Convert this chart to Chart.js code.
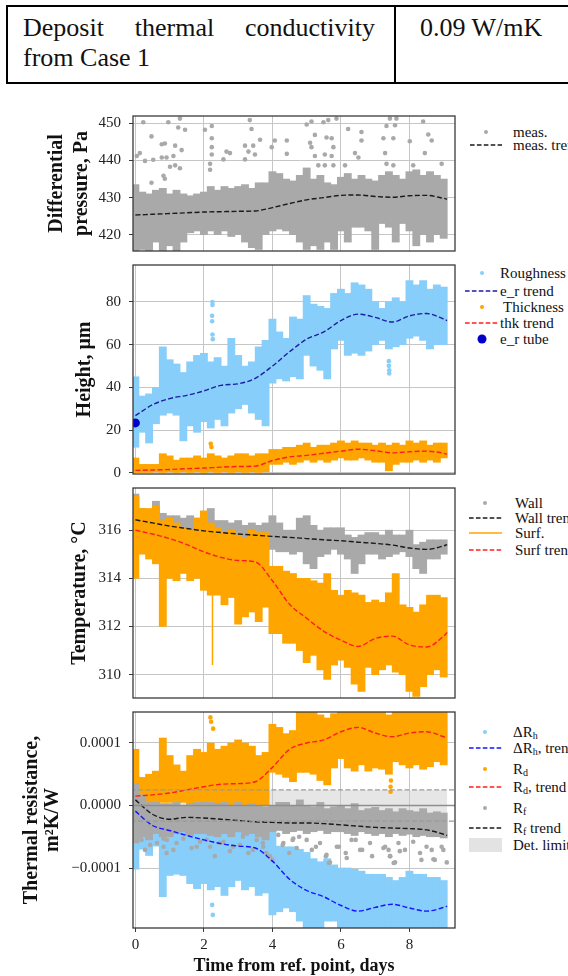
<!DOCTYPE html>
<html>
<head>
<meta charset="utf-8">
<script src="https://cdn.jsdelivr.net/npm/chart.js"></script>
<style>
  body { margin: 0; width: 568px; height: 976px; overflow: hidden; background: #fff; position: relative;
         font-family: 'Liberation Serif', 'Times New Roman', serif; color: #111; }
  .tbl { position: absolute; left: 6px; top: 5px; width: 640px; height: 79px; border: 2px solid #000; box-sizing: border-box; font-size: 26px; }
  .tbl .c1 { position: absolute; left: 0; top: 0; width: 388px; height: 100%; border-right: 2px solid #000; box-sizing: border-box;
             padding: 6px 19px 0 15px; line-height: 30px; }
  .tbl .l1 { text-align: justify; text-align-last: justify; }
  .tbl .c2 { position: absolute; left: 388px; top: 6px; padding-left: 24px; line-height: 30px; }
  canvas { position: absolute; left: 0; }
  .mk { position: absolute; left: 0; overflow: visible; }
  .lt { position: absolute; font-size: 15px; line-height: 18px; white-space: nowrap; }
  .lt sub { font-size: 10px; vertical-align: -2px; line-height: 0; }
</style>
</head>
<body>
<div class="tbl">
  <div class="c1"><div class="l1">Deposit thermal conductivity</div><div>from Case 1</div></div>
  <div class="c2">0.09 W/mK</div>
</div>
<div id="legends"></div>
<script>
// sample times of the measurement clouds, days
const T = [0,0.2,0.4,0.6,0.8,1,1.2,1.4,1.6,1.8,2,2.2,2.4,2.6,2.8,3,3.2,3.4,3.6,3.8,
           4,4.2,4.4,4.6,4.8,5,5.2,5.4,5.6,5.8,6,6.2,6.4,6.6,6.8,7,7.2,7.4,7.6,7.8,
           8,8.2,8.4,8.6,8.8,9];
// times of the trend curves
const TREND_T = [0,0.5,1,1.5,2,2.5,3,3.5,4,4.5,5,5.5,6,6.5,7,7.5,8,8.5,9,9.1];
const X_TICKS = [0,2,4,6,8];

// === differential pressure, Pa ===
const DP_HI = [433.5,431.5,431,432,432.5,431,432,431,430.5,431,431.5,433,432,433,432.5,433,433.5,432.5,434,434,
               437,436.5,435,434.5,436,438,435,436,434,433.5,435.5,436.5,435,436,435,434.5,436,437,436,435,
               437,437.5,436,437,436,435];
const DP_LO = [415,416,415,418,415,417,415,418,420.5,421,420,421,420,421,419.5,420,418,416.5,416,420,
               421,421.5,421,420,418,416,417,416,418,416,421,418,422,422,421,416,423,422,418,423,
               421,417,420,418,420,419];
const DP_OUT_T = [0.23,0.96,1.30,1.25,1.45,0.47,0.77,0.86,1.16,1.35,0.04,0.13,0.28,0.52,0.77,0.91,1.11,1.01,1.16,1.30,
                  0.82,0.86,0.47,2.03,2.23,2.23,2.23,2.23,2.18,2.18,2.66,2.57,2.76,3.34,3.39,3.64,3.2,3.3,3.2,3.44,
                  3.49,3.98,4.07,4.42,4.42,5.0,5.14,5.49,5.63,5.87,5.24,5.58,5.73,5.1,5.14,5.78,5.24,5.53,5.73,5.34,
                  5.53,5.78,6.21,6.6,6.6,6.41,6.51,6.12,7.24,7.29,7.53,7.33,7.58,7.43,7.62,8.01,8.4,8.55,8.65,8.45,
                  8.94,7.33,7.53,8.11];
const DP_OUT_V = [450.3,450.3,451.3,448.9,448.3,446.5,444.4,444.6,444.0,442.8,441.2,442.0,439.9,440.2,440.8,440.8,441.2,438.3,438.7,437.9,
                  435.9,435.1,434.0,448.3,449.3,446.0,443.6,441.6,439.1,437.5,442.4,440.3,442.0,450.9,448.5,445.6,444.0,442.4,440.3,444.0,
                  441.6,443.6,445.4,445.4,441.8,449.7,450.5,450.3,450.9,451.3,446.9,446.2,446.0,444.8,443.6,443.6,441.2,441.6,441.2,438.7,
                  438.7,438.7,448.5,447.7,445.4,442.0,440.8,438.7,446.0,442.0,446.0,449.3,449.5,451.3,451.3,445.2,450.5,447.0,445.4,442.0,
                  439.1,439.1,438.7,438.7];
const DP_TREND = [425.3,425.5,425.7,425.9,426.1,426.2,426.3,426.4,427.3,428.4,429.4,430.0,430.6,430.7,430.3,430.1,430.5,430.6,429.8,429.6];
const DP_TICKS = [420,430,440,450];

// === height, um ===
const ER_HI = [45,36,37,40,59,53,51,47,52,55,56,52,54,50,63,55,50,52,59,62,
               72,66,63,73,72,83,79,78,77,84,86,84,89,88,86,80,77,80,82,80,
               90,88,90,86,88,87];
const ER_LO = [12,19,14,23,27,28,27,15,22,19,24,21,25,22,28,30,32,28,25,22,
               42,44,43,45,44,55,50,48,44,58,62,55,56,55,57,60,62,58,59,60,
               63,64,62,58,60,60];
const ER_OUT_T = [2.25,2.25,2.24,2.24,2.25,2.26,7.4,7.4,7.41,7.41];
const ER_OUT_V = [80,78.6,73.5,71,64.8,62.6,52.3,50.1,48,46.5];
const ER_TREND = [26.8,31.9,34.8,36.3,38.4,41,41.7,44.3,50,56.7,62.6,66,71.3,74.3,72.8,70.6,73.5,74.6,72,71.3];
const THK_HI = [7,4,4,4,9,8,6,7,7,8,7,9,8,7,8,9,9,8,9,9,
                11,11,12,12,13,14,12,13,13,14,15,14,15,14,14,13,14,13,14,13,
                15,14,15,13,14,14];
const THK_LO = [0,0,0,0.5,0,0.5,0,0.5,0,0.5,0,0.5,0,0.5,0,0.5,0,0.5,0,0.5,
                4,4,5,4,5,6,5,6,5,6,7,6,6,7,6,5,5,1,4,5,
                5,6,5,6,5,7];
const THK_OUT_T = [2.2,2.22];
const THK_OUT_V = [13.6,12.1];
const THK_TREND = [1.2,1.4,1.6,2,2.3,2.7,3,3.2,5.8,7.5,8.2,9.2,10.2,11.1,10.4,9.4,9.9,10.2,9.2,8.8];
const TUBE_T = [0];
const TUBE_V = [23.4];
const H_TICKS = [0,20,40,60,80];

// === temperature, degC ===
const WALL_HI = [317.5,316.9,316.7,317.2,316.7,316.6,316.6,316.5,316.6,316.5,316.6,316.9,316.4,316.4,316.3,316.4,316.2,316.3,316.2,316.3,
                 316.6,316.3,316.0,316.0,316.5,316.6,316.2,316.0,316.1,316.1,316.1,315.8,315.7,315.8,315.9,315.9,315.8,316.0,315.8,315.8,
                 316.0,315.4,315.5,315.6,315.6,315.6];
const WALL_LO = [315.3,315.8,315.8,315.9,315.8,315.7,315.7,315.6,315.6,315.5,315.5,315.5,315.5,315.5,315.4,315.4,315.4,315.4,315.5,315.6,
                 315.2,315.1,315.1,315.0,315.1,314.6,314.4,314.9,315.0,315.2,315.0,314.8,314.2,314.6,315.0,315.0,314.8,314.9,315.0,315.1,
                 314.9,314.4,314.2,314.8,314.8,315.0];
const WALL_TREND = [316.43,316.3,316.17,316.07,315.97,315.9,315.84,315.79,315.74,315.7,315.65,315.6,315.56,315.5,315.45,315.38,315.26,315.2,315.35,315.4];
const SURF_HI = [317.4,316.9,316.9,317.0,316.4,316.5,316.3,316.1,316.0,316.5,316.8,316.3,316.1,315.9,316.0,315.8,315.7,316.0,315.9,315.9,
                 314.5,314.5,314.3,314.2,314.0,314.0,313.9,313.8,314.2,313.5,313.3,313.5,313.4,313.3,313.0,313.1,313.0,313.4,314.2,312.9,
                 312.8,312.6,312.9,313.3,313.3,313.2];
const SURF_LO = [314.0,315.0,314.8,314.6,312.0,314.0,313.9,314.2,313.9,314.0,313.5,313.3,313.3,312.9,313.2,312.1,312.4,312.6,312.2,312.8,
                 311.7,311.7,311.3,311.3,311.0,310.5,310.8,310.2,309.8,310.4,310.6,310.3,309.6,309.3,310.3,310.0,310.2,310.4,310.1,310.0,
                 309.3,309.1,309.5,310.0,310.2,309.9];
const SURF_SPIKE_T = [2.25,2.25];
const SURF_SPIKE_V = [313.3,310.4];
const SURF_TREND = [316.0,315.84,315.65,315.4,315.1,314.87,314.74,314.68,313.9,312.92,312.34,311.8,311.43,311.17,311.5,311.6,311.23,311.15,311.6,311.75];
const TEMP_TICKS = [310,312,314,316];

// === thermal resistance, 1e-4 m2K/W ===
const R_UNIT = 1e-4;
const RD_HI = [0.9,0.45,0.5,0.55,1.08,0.8,0.65,0.55,0.8,0.9,0.85,1.0,0.9,0.95,1.0,1.05,1.0,0.95,0.8,0.85,
               1.3,1.25,1.15,1.2,1.6,1.5,1.6,1.45,1.4,1.47,1.6,1.5,1.6,1.6,1.5,1.6,1.55,1.45,1.6,1.5,
               1.6,1.6,1.5,1.6,1.55,1.6];
const RD_LO = [0.17,0,0,0,0.05,0.05,0.05,0.05,0,0,0,0,0,0,0,0,0,0,0,0,
               0.53,0.5,0.45,0.38,0.53,0.53,0.5,0.4,0.33,0.6,0.75,0.6,0.55,0.65,0.55,0.6,0.58,0.5,0.7,0.65,
               0.6,0.65,0.58,0.62,0.7,0.65];
const RD_OUT_T = [2.19,2.21,2.27,7.45,7.45,7.46];
const RD_OUT_V = [1.41,1.34,1.23,0.3,0.22,0.4];
const RD_TREND = [0.15,0.17,0.2,0.25,0.3,0.34,0.35,0.38,0.61,0.9,1.0,1.05,1.18,1.25,1.16,1.1,1.16,1.18,1.1,1.08];
const DRH_HI = [0.48,-0.04,-0.04,-0.06,-0.1,-0.15,-0.15,-0.2,-0.25,-0.25,-0.25,-0.25,-0.35,-0.35,-0.35,-0.4,-0.4,-0.45,-0.5,-0.5,
                -0.4,-0.65,-0.66,-0.66,-0.7,-0.75,-0.85,-0.9,-0.85,-0.95,-1.0,-1.0,-1.02,-1.05,-1.1,-1.1,-1.1,-1.15,-1.2,-1.15,
                -1.05,-1.1,-1.1,-1.15,-1.15,-1.2];
const DRH_LO = [-1.02,-0.7,-0.8,-0.65,-1.46,-1.12,-1.1,-1.12,-1.25,-1.33,-1.25,-1.35,-1.3,-1.44,-1.3,-1.2,-1.35,-1.3,-1.44,-1.4,
                -1.75,-1.7,-1.64,-1.7,-1.85,-2,-2,-2,-1.85,-1.85,-2,-2,-2,-2,-2,-2,-2,-2,-2,-2,
                -2,-2,-2,-2,-2,-2];
const DRH_OUT_T = [2.24,2.26];
const DRH_OUT_V = [-1.59,-1.75];
const DRH_TREND = [-0.09,-0.32,-0.4,-0.48,-0.55,-0.61,-0.65,-0.68,-0.89,-1.18,-1.36,-1.46,-1.6,-1.69,-1.63,-1.58,-1.64,-1.69,-1.63,-1.61];
const RF_HI = [0.35,0.17,0.05,0.05,0.03,0.03,0.05,0,0.03,0.05,0.05,0.05,0.03,0.05,0,0.05,0,0.03,0,-0.02,
               0,0.05,0.05,0,0.09,0,-0.02,0.05,-0.05,-0.02,0,-0.05,0.03,-0.08,-0.05,-0.03,-0.08,-0.05,-0.1,-0.05,
               -0.08,-0.1,-0.05,-0.12,-0.1,-0.12];
const RF_LO = [-0.6,-0.5,-0.55,-0.45,-0.5,-0.5,-0.45,-0.42,-0.48,-0.45,-0.45,-0.48,-0.5,-0.45,-0.5,-0.42,-0.48,-0.45,-0.5,-0.55,
               -0.42,-0.4,-0.45,-0.42,-0.4,-0.45,-0.42,-0.4,-0.45,-0.42,-0.42,-0.45,-0.48,-0.42,-0.45,-0.48,-0.45,-0.5,-0.45,-0.48,
               -0.46,-0.5,-0.48,-0.5,-0.5,-0.52];
const RF_OUT_T = [0.15,0.63,0.82,0.92,1.11,1.5,1.79,2.08,2.46,2.85,3.14,3.43,3.72,3.82,4.0,4.3,4.49,4.59,4.78,5.27,
                  5.56,5.65,5.94,6.14,6.43,6.62,6.91,7.29,7.39,7.44,7.54,7.68,7.87,8.35,8.65,8.74,8.94,
                  0.18,0.28,0.43,0.82,0.91,1.2,1.4,1.64,1.89,2.18,2.32,2.57,2.76,3.05,3.3,3.54,3.73,3.93,4.17,4.32,
                  4.61,4.71,5.0,5.15,5.39,5.58,5.68,5.88,6.17,6.31,6.56,6.85,7.24,7.43,7.58,7.72,8.11,8.31,8.5,8.7,
                  8.99,9.09];
const RF_OUT_V = [-0.5,-0.6,-0.66,-0.55,-0.71,-0.45,-0.66,-0.55,-0.6,-0.66,-0.5,-0.71,-0.6,-0.76,-0.87,-0.63,-0.76,-0.55,-0.5,-0.66,
                  -0.81,-0.92,-0.66,-0.76,-0.55,-0.71,-0.81,-0.66,-0.71,-0.81,-0.92,-0.6,-0.71,-0.87,-0.71,-0.87,-0.66,
                  -0.55,-0.71,-0.63,-0.53,-0.76,-0.6,-0.53,-0.68,-0.58,-0.66,-0.81,-0.58,-0.73,-0.63,-0.76,-0.55,-0.66,-0.81,-0.47,-0.6,
                  -0.53,-0.68,-0.55,-0.71,-0.6,-0.79,-0.91,-0.66,-0.84,-0.55,-0.71,-0.6,-0.68,-0.81,-0.91,-0.73,-0.58,-0.76,-0.66,-0.86,
                  -0.71,-0.91];
const RF_TREND = [0.09,-0.14,-0.22,-0.19,-0.2,-0.22,-0.24,-0.26,-0.27,-0.28,-0.28,-0.29,-0.31,-0.33,-0.35,-0.36,-0.37,-0.39,-0.46,-0.48];
const DET_LIMIT = 0.25;
const DET_T = [0, 9.1];
const R_TICKS = [-1, 0, 1];

// --- styling ---
const SERIF = "'Liberation Serif', 'Times New Roman', serif";
const GRID = '#c6c6c6';
const AXIS = '#3a3a3a';
const C_GRAY = '#a9a9a9', C_SKY = '#87cefa', C_ORANGE = '#ffa500';
const C_RED = '#ff1e1e', C_NAVY = '#1e1ea0', C_BLUE = '#1414ff', C_BLACK = '#1a1a1a';
const X_MIN = -0.07, X_MAX = 9.33;

const pts = (xs, ys) => xs.map((x, i) => ({ x, y: ys[i] }));
const band = (lo, hi) => T.map((t, i) => ({ x: t, y: [lo[i], hi[i]] }));

function bandSet(lo, hi, color, order) {
  return { type: 'bar', data: band(lo, hi), backgroundColor: color, borderWidth: 0,
           barThickness: 7.2, grouped: false, order, clip: 0 };
}
function dotSet(xs, ys, color, order, r = 2.3) {
  return { type: 'scatter', data: pts(xs, ys), backgroundColor: color, borderWidth: 0,
           pointRadius: r, showLine: false, order, clip: 0 };
}
function trendSet(ys, color, order) {
  return { type: 'line', data: pts(TREND_T, ys), borderColor: color, borderWidth: 1.4, borderDash: [5, 2.4],
           pointRadius: 0, cubicInterpolationMode: 'monotone', fill: false, order, clip: 0 };
}
const hLine = (v, color, width, dash, order) => ({
  type: 'line', data: [{ x: -1, y: v }, { x: 10, y: v }], borderColor: color, borderWidth: width,
  borderDash: dash, pointRadius: 0, fill: false, order, clip: 0 });

// frame round each plot area, drawn on top like matplotlib spines
const frame = {
  id: 'frame',
  afterDraw(chart) {
    const { ctx, chartArea: a } = chart;
    ctx.save();
    ctx.strokeStyle = AXIS;
    ctx.lineWidth = 1.3;
    ctx.strokeRect(a.left, a.top, a.right - a.left, a.bottom - a.top);
    ctx.restore();
  }
};

function panel(p) {
  const cv = document.createElement('canvas');
  cv.width = 568; cv.height = p.h;
  cv.style.top = p.top + 'px';
  document.body.appendChild(cv);
  const isBottom = !!p.xTitle;
  new Chart(cv, {
    type: 'line',
    data: { datasets: p.datasets },
    options: {
      responsive: false, animation: false, devicePixelRatio: 1, events: [],
      layout: { padding: { top: 10, bottom: isBottom ? 0 : 10, left: 0, right: 113 } },
      plugins: { legend: { display: false }, tooltip: { enabled: false } },
      scales: {
        x: {
          type: 'linear', min: X_MIN, max: X_MAX, z: 1, offset: false,
          afterBuildTicks: s => { s.ticks = X_TICKS.map(v => ({ value: v })); },
          afterFit: s => { s.height = isBottom ? 48 : 0; },
          ticks: { display: isBottom, font: { family: SERIF, size: 15 }, color: '#222', padding: 4 },
          grid: { color: GRID, lineWidth: 1, offset: false, drawTicks: isBottom, tickLength: 4, tickColor: AXIS },
          border: { display: false },
          title: { display: isBottom, text: p.xTitle, color: '#111',
                   font: { family: SERIF, size: 18, weight: 'bold', lineHeight: 1 }, padding: { top: 0, bottom: 1 } }
        },
        y: {
          type: 'linear', min: p.min, max: p.max, z: 1,
          afterBuildTicks: s => { s.ticks = p.ticks.map(v => ({ value: v })); },
          afterFit: s => { s.width = 133; },
          ticks: { font: { family: SERIF, size: 15 }, color: '#222', padding: 8, callback: p.fmt || (v => String(v)) },
          grid: { color: GRID, lineWidth: 1, drawTicks: true, tickLength: 4, tickColor: AXIS },
          border: { display: false },
          title: { display: true, text: p.yTitle, color: '#111',
                   font: { family: SERIF, size: 20, weight: 'bold', lineHeight: p.titleLH },
                   padding: { top: p.titlePad, bottom: 0 } }
        }
      }
    },
    plugins: [frame]
  });
}

panel({
  top: 99, h: 169, min: 415.6, max: 452, ticks: DP_TICKS,
  yTitle: ['Differential', 'pressure, Pa'], titleLH: 1.25, titlePad: 44.5,
  datasets: [
    trendSet(DP_TREND, C_BLACK, 1),
    dotSet(DP_OUT_T, DP_OUT_V, C_GRAY, 2),
    bandSet(DP_LO, DP_HI, C_GRAY, 2)
  ]
});

panel({
  top: 248, h: 243, min: -0.5, max: 97.3, ticks: H_TICKS,
  yTitle: 'Height, μm', titleLH: 1.25, titlePad: 72.5,
  datasets: [
    dotSet(TUBE_T, TUBE_V, '#0000cd', 1, 4.5),
    trendSet(ER_TREND, C_NAVY, 2),
    trendSet(THK_TREND, C_RED, 2),
    dotSet(THK_OUT_T, THK_OUT_V, C_ORANGE, 3),
    bandSet(THK_LO, THK_HI, C_ORANGE, 3),
    dotSet(ER_OUT_T, ER_OUT_V, C_SKY, 4),
    bandSet(ER_LO, ER_HI, C_SKY, 4)
  ]
});

panel({
  top: 471, h: 244, min: 309.03, max: 317.75, ticks: TEMP_TICKS,
  yTitle: 'Temperature, °C', titleLH: 1.25, titlePad: 67.5,
  datasets: [
    trendSet(WALL_TREND, C_BLACK, 1),
    trendSet(SURF_TREND, C_RED, 1),
    { type: 'line', data: pts(SURF_SPIKE_T, SURF_SPIKE_V), borderColor: C_ORANGE, borderWidth: 1.5, pointRadius: 0, order: 2, clip: 0 },
    bandSet(SURF_LO, SURF_HI, C_ORANGE, 2),
    bandSet(WALL_LO, WALL_HI, C_GRAY, 3)
  ]
});

panel({
  top: 695, h: 281, min: -1.96, max: 1.496, ticks: R_TICKS,
  fmt: v => (v * R_UNIT).toFixed(4).replace('-', '\u2212'),
  yTitle: ['Thermal resistance,', 'm\u00b2K/W'], titleLH: 1.05, titlePad: 21.5,
  xTitle: 'Time from ref. point, days',
  datasets: [
    hLine(DET_LIMIT, '#9a9a9a', 1.2, [5, 2.4], 1),
    hLine(-DET_LIMIT, '#9a9a9a', 1.2, [5, 2.4], 1),
    hLine(0, '#8e8e8e', 1.6, [], 1),
    trendSet(RF_TREND, C_BLACK, 2),
    trendSet(RD_TREND, C_RED, 2),
    trendSet(DRH_TREND, C_BLUE, 2),
    dotSet(RF_OUT_T, RF_OUT_V, C_GRAY, 3),
    bandSet(RF_LO, RF_HI, C_GRAY, 3),
    dotSet(RD_OUT_T, RD_OUT_V, C_ORANGE, 4),
    bandSet(RD_LO, RD_HI, C_ORANGE, 4),
    dotSet(DRH_OUT_T, DRH_OUT_V, C_SKY, 5),
    bandSet(DRH_LO, DRH_HI, C_SKY, 5),
    { type: 'line', data: DET_T.map(x => ({ x, y: DET_LIMIT })), borderWidth: 0, pointRadius: 0,
      fill: '+1', backgroundColor: 'rgba(200,200,200,0.45)', order: 6, clip: 0 },
    { type: 'line', data: DET_T.map(x => ({ x, y: -DET_LIMIT })), borderWidth: 0, pointRadius: 0, fill: false, order: 6, clip: 0 }
  ]
});

// --- legends (HTML, to the right of each panel; clipped by the page edge) ---
function legend(rows, mx, x1, x2) {
  let html = '';
  rows.forEach(([y, kind, color, label, tx]) => {
    let mark = '';
    if (kind === 'dot') mark = `<circle cx="${mx}" cy="9" r="2" fill="${color}"/>`;
    if (kind === 'big') mark = `<circle cx="${mx}" cy="9" r="4.5" fill="${color}"/>`;
    if (kind === 'dash') mark = `<line x1="${x1}" x2="${x2}" y1="9" y2="9" stroke="${color}" stroke-width="1.3" stroke-dasharray="4.6 2.3"/>`;
    if (kind === 'line') mark = `<line x1="${x1}" x2="${x2}" y1="9" y2="9" stroke="${color}" stroke-width="1.5"/>`;
    if (kind === 'rect') mark = `<rect x="${x1}" y="2" width="${x2 - x1}" height="14" fill="${color}"/>`;
    html += `<svg class="mk" style="top:${y - 9}px" width="568" height="18">${mark}</svg>` +
            `<div class="lt" style="top:${y - 9}px;left:${tx}px">${label}</div>`;
  });
  document.getElementById('legends').insertAdjacentHTML('beforeend', html);
}

legend([
  [132, 'dot', C_GRAY, 'meas.', 513],
  [145, 'dash', C_BLACK, 'meas. trend', 513]
], 486, 470, 502);

legend([
  [273, 'dot', C_SKY, 'Roughness', 500],
  [291, 'dash', C_NAVY, 'e_r trend', 500],
  [307, 'dot', C_ORANGE, 'Thickness', 503],
  [323, 'dash', C_RED, 'thk trend', 500],
  [339, 'big', '#0000cd', 'e_r tube', 500]
], 482, 465, 498);

legend([
  [503, 'dot', C_GRAY, 'Wall', 515],
  [518, 'dash', C_BLACK, 'Wall trend', 515],
  [533, 'line', C_ORANGE, 'Surf.', 515],
  [550, 'dash', C_RED, 'Surf trend', 515]
], 485, 469, 502);

legend([
  [732, 'dot', C_SKY, 'ΔR<sub>h</sub>', 513],
  [748, 'dash', C_BLUE, 'ΔR<sub>h</sub>, trend', 513],
  [769, 'dot', C_ORANGE, 'R<sub>d</sub>', 513],
  [787, 'dash', C_RED, 'R<sub>d</sub>, trend', 513],
  [808, 'dot', C_GRAY, 'R<sub>f</sub>', 513],
  [828, 'dash', C_BLACK, 'R<sub>f</sub> trend', 513],
  [845, 'rect', '#e3e3e3', 'Det. limit', 513]
], 485, 469, 502);
</script>
</body>
</html>
